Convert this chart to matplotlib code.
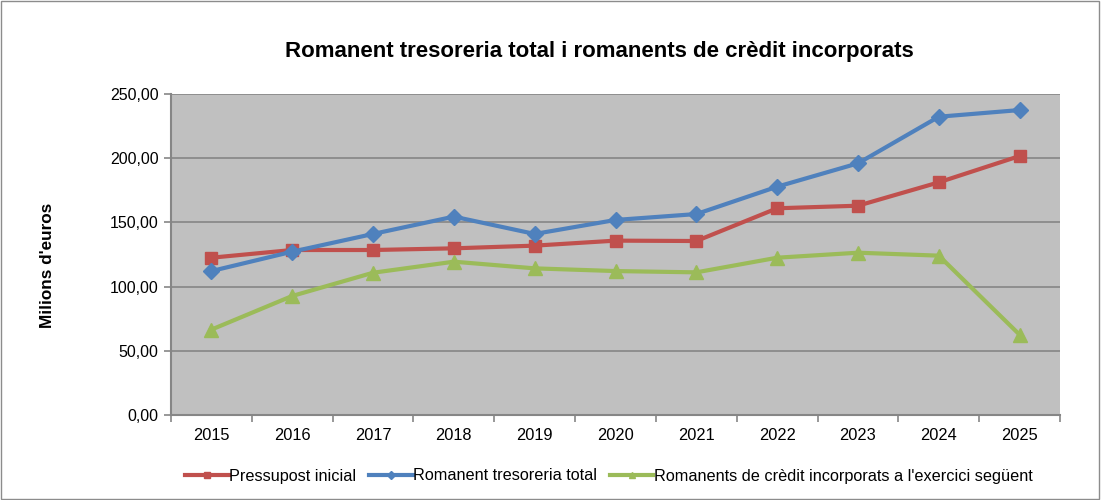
import matplotlib
matplotlib.use("Agg")
import matplotlib.pyplot as plt
from matplotlib.ticker import FuncFormatter
from matplotlib.patches import Rectangle

plt.rcParams['font.family'] = ['Liberation Sans', 'DejaVu Sans']

years = ['2015', '2016', '2017', '2018', '2019', '2020', '2021', '2022', '2023', '2024', '2025']
pressupost = [122.5, 128.5, 128.5, 129.8, 131.9, 135.8, 135.5, 161.0, 163.0, 181.2, 201.7]
romanent = [112.1, 127.2, 141.0, 154.5, 141.0, 151.9, 156.5, 177.8, 196.0, 232.3, 237.5]
romanents_credit = [66.5, 92.7, 110.8, 119.4, 114.2, 112.1, 111.1, 122.5, 126.4, 124.1, 62.5]

labels = ['Pressupost inicial', 'Romanent tresoreria total',
          "Romanents de crèdit incorporats a l'exercici següent"]

fig = plt.figure(figsize=(11.01, 5.0), dpi=100)
fig.patches.append(Rectangle((0.001, 0.002), 0.997, 0.996, transform=fig.transFigure,
                             fill=False, edgecolor='#8c8c8c', linewidth=1.0))
ax = fig.add_axes([0.1553, 0.17, 0.8075, 0.642])
ax.set_facecolor('#C0C0C0')

x = list(range(len(years)))
l1, = ax.plot(x, pressupost, color='#C0504D', lw=3, marker='s', ms=9, label=labels[0], zorder=3)
l2, = ax.plot(x, romanent, color='#4F81BD', lw=3, marker='D', ms=8, label=labels[1], zorder=3)
l3, = ax.plot(x, romanents_credit, color='#9BBB59', lw=3, marker='^', ms=10, label=labels[2], zorder=3)

ax.set_xlim(-0.5, len(years) - 0.5)
ax.set_ylim(0, 250)
ax.set_yticks([0, 50, 100, 150, 200, 250])
ax.yaxis.set_major_formatter(FuncFormatter(lambda v, p: f"{v:.2f}".replace('.', ',')))
ax.grid(axis='y', color='#868686', lw=1.2, zorder=1)
ax.set_axisbelow(True)

ax.set_xticks(x)
ax.set_xticklabels(years)
ax.set_xticks([i - 0.5 for i in range(len(years) + 1)], minor=True)
ax.tick_params(axis='x', which='major', length=0, pad=9, labelsize=11.8)
ax.tick_params(axis='x', which='minor', length=5, color='#868686', width=1.2)
ax.tick_params(axis='y', length=5, color='#868686', width=1.2, labelsize=11.5, pad=4)

for s in ['top', 'right']:
    ax.spines[s].set_visible(False)
for s in ['left', 'bottom']:
    ax.spines[s].set_color('#868686')
    ax.spines[s].set_linewidth(1.5)

fig.text(0.544, 0.896, 'Romanent tresoreria total i romanents de crèdit incorporats',
         ha='center', va='center', fontsize=16, fontweight='bold')
fig.text(0.043, 0.47, "Milions d'euros", rotation=90, ha='center', va='center',
         fontsize=12.3, fontweight='bold')

fig.legend(handles=[l1, l2, l3], labels=labels, loc='center', bbox_to_anchor=(0.553, 0.048),
           ncol=3, frameon=False, fontsize=11.7, handlelength=2.7, handletextpad=0.05,
           columnspacing=0.75, markerscale=0.45)

fig.savefig('out.png', dpi=100)
